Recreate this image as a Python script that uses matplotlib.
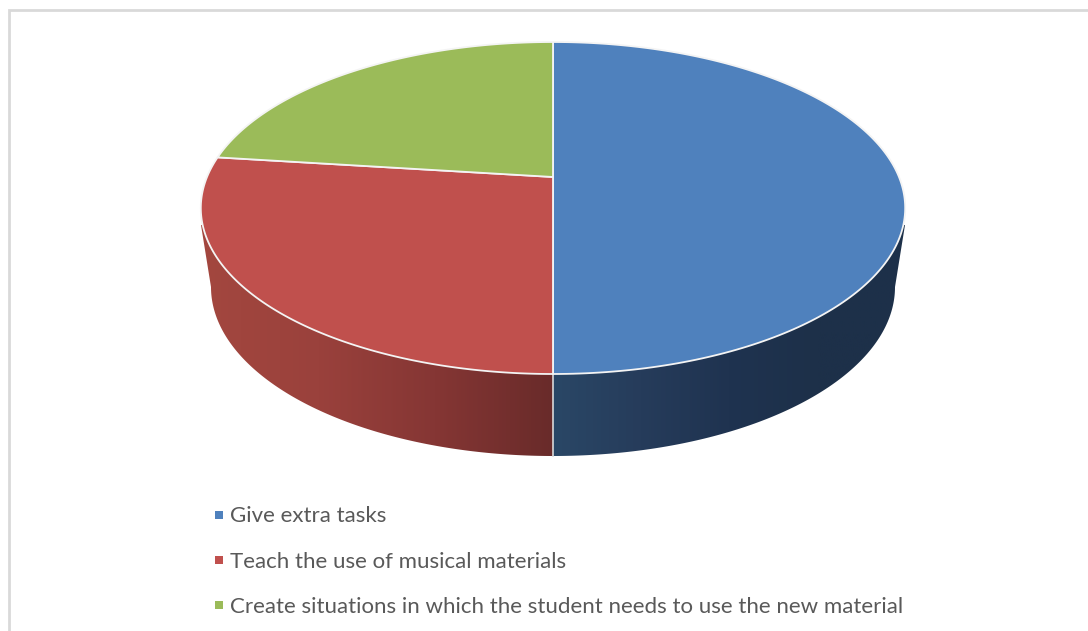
import numpy as np
import matplotlib
matplotlib.use("Agg")
import matplotlib.pyplot as plt
from matplotlib.colors import LinearSegmentedColormap
from matplotlib.lines import Line2D
from matplotlib.patches import Polygon

categories = ["Give extra tasks", "Teach the use of musical materials",
              "Create situations in which the student needs to use the new material"]
values = [50, 27, 23]
top_colors = ["#4F81BD", "#C0504D", "#9BBB59"]

# layout (pixels of the reference)
CX, CY0 = 553.0, 177.0
BACK, FRONT = 135.0, 197.0
PERSP = (FRONT - BACK) / (FRONT + BACK)
A = BACK * (1 + PERSP)
K = 346.0
BOT_CY, BOT_RX, BOT_RY = 287.0, 342.0, 169.0
TOP_W, TOP_Y = 352.0, 225.0
EDGE = "#F4F4F4"

plt.rcParams["font.family"] = ["Lato", "DejaVu Sans"]
fig = plt.figure(figsize=(10.88, 6.31), dpi=100)
ax = fig.add_axes([0, 0, 1, 1])
ax.set_xlim(0, 1088)
ax.set_ylim(631, 0)
ax.axis("off")


def top_point(theta):
    u, v = np.sin(theta), np.cos(theta)
    w = 1 + PERSP * v
    return CX + K * u / w, CY0 - A * v / w


# side wall, shaded with horizontal gradients
red_cmap = LinearSegmentedColormap.from_list("r", ["#A3473F", "#9A413C", "#853634", "#692B2A"])
blue_cmap = LinearSegmentedColormap.from_list("b", ["#2A4766", "#263C5B", "#1F3350", "#1D3049", "#1D3049"])
grad = np.linspace(0, 1, 256)[None, :]
for cmap, sgn in ((red_cmap, -1), (blue_cmap, 1)):
    phi = np.linspace(0, np.pi / 2, 200)
    rim_x = CX + sgn * BOT_RX * np.sin(phi)
    rim_y = BOT_CY + BOT_RY * np.cos(phi)
    px = np.r_[CX, rim_x, CX + sgn * TOP_W]
    py = np.r_[TOP_Y, rim_y, TOP_Y]
    x0, x1 = (CX - TOP_W, CX) if sgn < 0 else (CX, CX + TOP_W)
    im = ax.imshow(grad, cmap=cmap, extent=(x0, x1, 470, 200), aspect="auto", zorder=1)
    im.set_clip_path(Polygon(np.column_stack([px, py]), transform=ax.transData))
ax.set_xlim(0, 1088)
ax.set_ylim(631, 0)
ax.plot([CX, CX], [372, BOT_CY + BOT_RY], color="#D9D9D9", lw=1.2, zorder=2)

# top face
start = 0.0
for val, col in zip(values, top_colors):
    stop = start + 2 * np.pi * val / sum(values)
    th = np.linspace(start, stop, 200)
    x, y = top_point(th)
    ax.fill(np.r_[CX, x], np.r_[CY0, y], facecolor=col, edgecolor=EDGE, lw=1.3,
            joinstyle="round", zorder=3)
    start = stop

# legend
handles = [Line2D([], [], ls="", marker="s", ms=5.8, mew=0, color=c) for c in top_colors]
ax.legend(handles, categories, loc="upper left", bbox_to_anchor=(207.9 / 1088, 1 - 506.5 / 631),
          frameon=False, fontsize=16, labelcolor="#595959", labelspacing=1.13,
          handletextpad=0.0, handlelength=1.0, borderpad=0, borderaxespad=0)

# picture frame
ax.plot([8.5, 8.5, 1088], [631, 9.5, 9.5], color="#D9D9D9", lw=2.0, zorder=0,
        solid_joinstyle="miter")

fig.savefig("out.png", dpi=100, facecolor="white")
